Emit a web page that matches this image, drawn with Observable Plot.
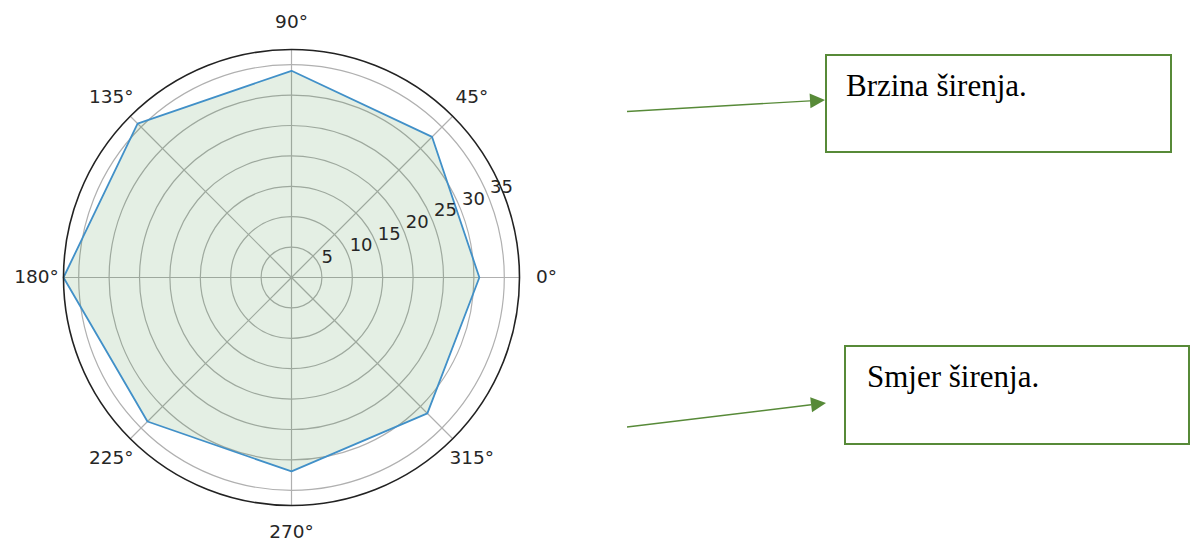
<!DOCTYPE html>
<html>
<head>
<meta charset="utf-8">
<script src="https://cdn.jsdelivr.net/npm/d3@7"></script>
<script src="https://cdn.jsdelivr.net/npm/@observablehq/plot@0.6"></script>
<style>
  html, body { margin: 0; padding: 0; background: #fff; }
  #wrap { position: relative; width: 1197px; height: 542px; overflow: hidden; }
  #wrap > svg { position: absolute; left: 0; top: 0; }
</style>
</head>
<body>
<div id="wrap"></div>
<script>
// ---- data ----
const angles = [0, 45, 90, 135, 180, 225, 270, 315];
const angleLabels = ["0°", "45°", "90°", "135°", "180°", "225°", "270°", "315°"];
const speeds = [30.9, 32.7, 34.0, 35.8, 37.5, 33.5, 31.9, 31.6];
const rTicks = [5, 10, 15, 20, 25, 30, 35];
const rTickLabels = ["5", "10", "15", "20", "25", "30", "35"];
const rMax = 37.5;
const annotationTexts = ["Brzina širenja.", "Smjer širenja."];

// ---- layout ----
const W = 1197, H = 542;
const cx = 291, cy = 277, R = 228;
const k = R / rMax;            // px per unit
const labelR = 255 / k;        // angular labels radius (units)
const rLabelAngle = 22.5;

const rad = d => d * Math.PI / 180;
const px = (r, a) => r * Math.cos(rad(a));
const py = (r, a) => r * Math.sin(rad(a));

const poly = angles.concat([angles[0]]).map((a, i) => ({
  x: px(speeds[i % speeds.length], a),
  y: py(speeds[i % speeds.length], a)
}));

const plot = Plot.plot({
  width: W, height: H,
  margin: 0,
  x: {axis: null, domain: [-cx / k, (W - cx) / k]},
  y: {axis: null, domain: [-(H - cy) / k, cy / k]},
  r: {type: "linear", domain: [0, rMax], range: [0, R]},
  style: {fontFamily: "DejaVu Sans", fontSize: "18px", background: "white", color: "#222"},
  marks: [
    Plot.dot(rTicks, {x: () => 0, y: () => 0, r: d => d, fill: "none", stroke: "#b0b0b0", strokeWidth: 1.2}),
    Plot.link(angles, {x1: () => 0, y1: () => 0, x2: a => px(rMax, a), y2: a => py(rMax, a), stroke: "#b0b0b0", strokeWidth: 1.2}),
    Plot.line(poly, {x: "x", y: "y", fill: "#1f7a1f", fillOpacity: 0.12, stroke: "none"}),
    Plot.line(poly, {x: "x", y: "y", stroke: "#4190c8", strokeWidth: 1.8, strokeLinejoin: "miter"}),
    Plot.dot([rMax], {x: () => 0, y: () => 0, r: d => d, fill: "none", stroke: "#222", strokeWidth: 1.6}),
    Plot.text(angles, {x: a => px(labelR, a), y: a => py(labelR, a), text: (a, i) => angleLabels[i], fontSize: 18.5, fill: "#262626"}),
    Plot.text(rTicks, {x: r => px(r, rLabelAngle), y: r => py(r, rLabelAngle), text: (r, i) => rTickLabels[i],
      textAnchor: "start", lineAnchor: "bottom", dx: 2, dy: -3, fontSize: 18, fill: "#262626"})
  ]
});
document.getElementById("wrap").appendChild(plot);

// ---- annotations (text boxes with arrows) ----
const NS = "http://www.w3.org/2000/svg";
const ov = document.createElementNS(NS, "svg");
ov.setAttribute("width", W); ov.setAttribute("height", H);
ov.style.pointerEvents = "none";
const green = "#578a38";
const boxes = [
  {x0: 826, y0: 55, x1: 1171, y1: 152, tx: 846, ty: 96, from: [627, 111.5], to: [825, 100]},
  {x0: 845, y0: 346, x1: 1189, y1: 444, tx: 867, ty: 387, from: [627, 427], to: [826, 403]}
];
boxes.forEach((b, i) => {
  const rect = document.createElementNS(NS, "rect");
  rect.setAttribute("x", b.x0); rect.setAttribute("y", b.y0);
  rect.setAttribute("width", b.x1 - b.x0); rect.setAttribute("height", b.y1 - b.y0);
  rect.setAttribute("fill", "white"); rect.setAttribute("stroke", green); rect.setAttribute("stroke-width", 2);
  ov.appendChild(rect);
  const t = document.createElementNS(NS, "text");
  t.setAttribute("x", b.tx); t.setAttribute("y", b.ty);
  t.setAttribute("font-family", "Liberation Serif, Times New Roman, serif");
  t.setAttribute("font-size", 31); t.setAttribute("fill", "#000");
  t.textContent = annotationTexts[i];
  ov.appendChild(t);
  const [fx, fy] = b.from, [tx, ty] = b.to;
  const dx = tx - fx, dy = ty - fy, L = Math.hypot(dx, dy);
  const ux = dx / L, uy = dy / L, len = 15, hw = 7.5;
  const bx = tx - ux * len, by = ty - uy * len;
  const line = document.createElementNS(NS, "line");
  line.setAttribute("x1", fx); line.setAttribute("y1", fy);
  line.setAttribute("x2", bx); line.setAttribute("y2", by);
  line.setAttribute("stroke", green); line.setAttribute("stroke-width", 1.4);
  ov.appendChild(line);
  const head = document.createElementNS(NS, "polygon");
  head.setAttribute("points", `${tx},${ty} ${bx - uy * hw},${by + ux * hw} ${bx + uy * hw},${by - ux * hw}`);
  head.setAttribute("fill", green);
  ov.appendChild(head);
});
document.getElementById("wrap").appendChild(ov);
</script>
</body>
</html>
